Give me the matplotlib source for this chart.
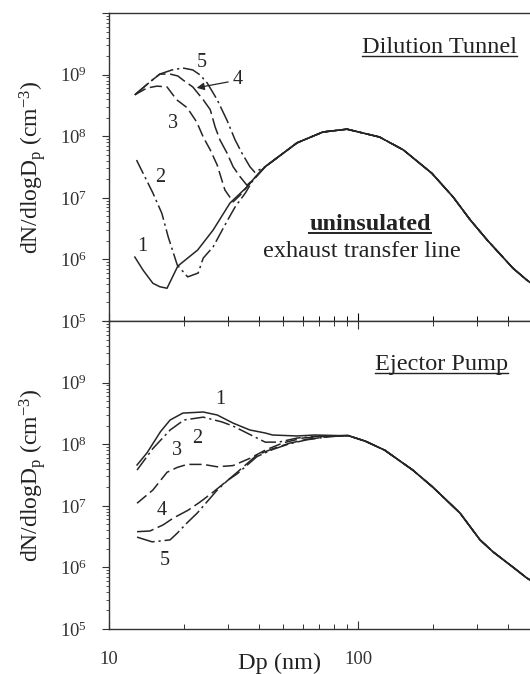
import matplotlib
matplotlib.use('Agg')
import matplotlib.pyplot as plt
from matplotlib.lines import Line2D
from matplotlib.ticker import FixedLocator, FixedFormatter, LogLocator, NullFormatter

plt.rcParams['font.family'] = ['Liberation Serif', 'DejaVu Serif']
plt.rcParams['mathtext.fontset'] = 'custom'
plt.rcParams['mathtext.rm'] = 'Liberation Serif'
plt.rcParams['mathtext.it'] = 'Liberation Serif:italic'
plt.rcParams['mathtext.bf'] = 'Liberation Serif:bold'

# ---------------- data (Dp in nm, dN/dlogDp in cm^-3) ----------------
# Top panel: Dilution Tunnel, shared accumulation-mode tail
top_tail_d = [42.4, 56.9, 72.3, 90.3, 122, 152, 198, 241, 282, 330, 419, 477, 600]
top_tail_n = [3.2e7, 7.8e7, 1.17e8, 1.3e8, 9.7e7, 6.0e7, 2.5e7, 1.03e7, 4.4e6, 2.07e6, 7.2e5, 4.6e5, 2.4e5]

top1_d = [12.7, 13.7, 15.0, 16.0, 17.1, 18.9, 22.7, 26.2, 30.6, 35.8, 37.8]
top1_n = [1.09e6, 6.7e5, 4.1e5, 3.6e5, 3.4e5, 7.8e5, 1.42e6, 3.0e6, 8.2e6, 1.5e7, 1.95e7]
top2_d = [12.9, 15.0, 16.3, 17.3, 17.9, 18.8, 20.7, 22.8, 23.9, 26.2, 30.0, 32.1, 35.3, 37.8]
top2_n = [4.1e7, 1.2e7, 5.6e6, 2.3e6, 1.5e6, 8.1e5, 5.2e5, 6.0e5, 1.05e6, 1.6e6, 4.4e6, 7.1e6, 1.2e7, 1.9e7]
top3_d = [12.7, 14.2, 15.6, 17.1, 18.7, 20.6, 22.5, 23.9, 25.5, 27.2, 29.2, 31.5, 33.6, 37.8]
top3_n = [4.7e8, 6.05e8, 6.5e8, 6.3e8, 3.9e8, 2.9e8, 1.7e8, 9.7e7, 6.0e7, 3.4e7, 1.34e7, 8.6e6, 1.1e7, 1.95e7]
top4_d = [12.7, 14.6, 16.0, 17.6, 18.9, 19.8, 21.7, 23.9, 25.5, 26.7, 27.9, 29.8, 31.5, 33.6, 35.8, 37.8]
top4_n = [4.7e8, 7.6e8, 1.02e9, 1.02e9, 9.5e8, 8.2e8, 6.3e8, 3.9e8, 2.7e8, 1.4e8, 8.7e7, 5.3e7, 3.2e7, 2.2e7, 1.6e7, 1.95e7]
top5_d = [12.7, 14.6, 16.0, 17.9, 19.8, 21.7, 23.2, 24.8, 27.2, 29.8, 32.1, 34.2, 36.8, 38.5]
top5_n = [4.7e8, 7.6e8, 1.02e9, 1.19e9, 1.28e9, 1.19e9, 9.9e8, 7.3e8, 3.9e8, 1.8e8, 8.7e7, 5.3e7, 3.2e7, 2.6e7]

# Bottom panel: Ejector Pump, shared tail
bot_tail_d = [91.3, 107, 128, 166, 200, 257, 309, 349, 419, 477, 600]
bot_tail_n = [1.38e8, 1.12e8, 8.0e7, 3.8e7, 2.0e7, 7.6e6, 2.8e6, 1.78e6, 1.01e6, 6.7e5, 3.8e5]

bot1_d = [12.96, 14.2, 16.1, 17.6, 19.8, 23.9, 27.2, 31.5, 36.8, 42.4, 45.4, 56.9, 67.0, 84.0]
bot1_n = [4.6e7, 7.2e7, 1.6e8, 2.47e8, 3.2e8, 3.33e8, 2.98e8, 2.2e8, 1.7e8, 1.52e8, 1.41e8, 1.36e8, 1.41e8, 1.38e8]
bot2_d = [12.96, 15.0, 17.6, 20.0, 23.9, 28.4, 31.5, 35.8, 42.4, 48.0, 57.0, 70.0, 84.0]
bot2_n = [3.8e7, 8.5e7, 1.7e8, 2.47e8, 2.75e8, 2.3e8, 1.97e8, 1.52e8, 1.08e8, 1.08e8, 1.26e8, 1.35e8, 1.37e8]
bot3_d = [12.96, 15.0, 17.1, 18.8, 20.6, 23.9, 27.2, 31.5, 36.8, 42.4, 50.0, 60.0, 77.0]
bot3_n = [1.1e7, 1.8e7, 3.5e7, 4.2e7, 4.7e7, 4.7e7, 4.3e7, 4.5e7, 5.9e7, 8.0e7, 1.05e8, 1.26e8, 1.36e8]
bot4_d = [12.96, 14.6, 16.5, 18.1, 20.8, 23.2, 26.2, 30.0, 32.7, 39.3, 45.4, 53.2, 62.4, 77.0]
bot4_n = [3.8e6, 3.9e6, 4.9e6, 6.3e6, 8.5e6, 1.15e7, 1.67e7, 2.6e7, 3.5e7, 6.7e7, 8.4e7, 1.04e8, 1.2e8, 1.33e8]
bot5_d = [12.96, 14.9, 16.3, 17.6, 18.8, 20.6, 22.6, 24.7, 27.2, 30.0, 32.7, 39.3, 45.4, 53.2, 62.4, 77.0]
bot5_n = [3.1e6, 2.6e6, 2.7e6, 2.8e6, 3.6e6, 5.3e6, 7.6e6, 1.15e7, 1.8e7, 2.6e7, 3.3e7, 6.3e7, 8.2e7, 1.02e8, 1.18e8, 1.33e8]

curve_ids = ['1', '2', '3', '4', '5']
y_tick_vals = [1e5, 1e6, 1e7, 1e8, 1e9, 1e10]
y_tick_labels = [r'$\mathregular{10^{5}}$', r'$\mathregular{10^{6}}$', r'$\mathregular{10^{7}}$',
                 r'$\mathregular{10^{8}}$', r'$\mathregular{10^{9}}$', '']
x_tick_vals = [10, 100, 1000]
x_tick_labels = ['10', '100', '']

# ---------------- figure ----------------
W, H = 530, 674
fig = plt.figure(figsize=(W / 100, H / 100), dpi=100)
fig.patch.set_facecolor('white')

def px_axes(x0, y0, x1, y1):
    return fig.add_axes([x0 / W, 1 - y1 / H, (x1 - x0) / W, (y1 - y0) / H])

ax_top = px_axes(109, 13, 607, 321)
ax_bot = px_axes(109, 321, 607, 629)

LC = '#262626'
styles = {
    '1': '-',
    '2': (0, (10, 2.5, 1.5, 2.5)),
    '3': (0, (8, 3)),
    '4': (0, (11, 3)),
    '5': (0, (12, 2.5, 1.5, 2.5)),
}

top_series = [(top1_d, top1_n), (top2_d, top2_n), (top3_d, top3_n), (top4_d, top4_n), (top5_d, top5_n)]
bot_series = [(bot1_d, bot1_n), (bot2_d, bot2_n), (bot3_d, bot3_n), (bot4_d, bot4_n), (bot5_d, bot5_n)]

for cid, (d, n) in zip(curve_ids, top_series):
    ax_top.plot(d + top_tail_d, n + top_tail_n, color=LC, lw=1.1, ls=styles[cid])
for cid, (d, n) in zip(curve_ids, bot_series):
    ax_bot.plot(d + bot_tail_d, n + bot_tail_n, color=LC, lw=1.1, ls=styles[cid])

for ax in (ax_top, ax_bot):
    ax.set_xscale('log')
    ax.set_yscale('log')
    ax.set_xlim(10, 1000)
    ax.set_ylim(1e5, 1e10)
    for s in ax.spines.values():
        s.set_linewidth(1.0)
        s.set_color('#333333')
    ax.yaxis.set_major_locator(FixedLocator(y_tick_vals))
    ax.yaxis.set_major_formatter(FixedFormatter(y_tick_labels))
    ax.yaxis.set_minor_locator(LogLocator(base=10, subs=range(2, 10), numticks=20))
    ax.yaxis.set_minor_formatter(NullFormatter())
    ax.tick_params(axis='y', which='major', direction='out', length=5, width=0.8,
                   labelsize=13.5, pad=11, colors='#333333')
    ax.tick_params(axis='y', which='minor', direction='out', length=2.5, width=0.6, colors='#333333')
    ax.xaxis.set_major_locator(FixedLocator(x_tick_vals))
    ax.xaxis.set_major_formatter(FixedFormatter(x_tick_labels))
    ax.xaxis.set_minor_locator(LogLocator(base=10, subs=range(2, 10), numticks=20))
    ax.xaxis.set_minor_formatter(NullFormatter())

ax_top.tick_params(axis='x', which='both', direction='in', top=False, bottom=True, labelbottom=False)
ax_top.tick_params(axis='x', which='major', length=6, width=0.8)
ax_top.tick_params(axis='x', which='minor', length=3.5, width=0.7)
ax_bot.tick_params(axis='x', which='both', direction='in', top=True, bottom=True, labelbottom=True,
                   labelsize=13.5, pad=16, colors='#333333')
ax_bot.tick_params(axis='x', which='major', length=6, width=0.8)
ax_bot.tick_params(axis='x', which='minor', length=3.5, width=0.7)

# curve labels
num_fs = 14.5
for (d, n, t) in [(13.6, 1.6e6, '1'), (16.0, 2.1e7, '2'), (18.1, 1.6e8, '3'), (23.6, 1.55e9, '5')]:
    ax_top.text(d, n, t, fontsize=num_fs, ha='center', va='center', color=LC)
ax_top.text(33.0, 8.2e8, '4', fontsize=num_fs, ha='center', va='center', color=LC)
ax_top.annotate('', xy=(22.5, 6.1e8), xytext=(30.1, 7.6e8),
                arrowprops=dict(arrowstyle='-|>', color=LC, lw=0.9, mutation_scale=11,
                                shrinkA=0, shrinkB=0))
for (d, n, t) in [(27.9, 5.3e8, '1'), (22.5, 1.26e8, '2'), (18.8, 8.0e7, '3'),
                  (16.3, 8.5e6, '4'), (16.8, 1.3e6, '5')]:
    ax_bot.text(d, n, t, fontsize=num_fs, ha='center', va='center', color=LC)

# annotation texts
t_dil = ax_top.text(0.819, 0.870, 'Dilution Tunnel', transform=ax_top.transAxes,
                    ha='right', va='baseline', fontsize=17.5, color='#222222')
t_uni = ax_top.text(0.524, 0.295, 'uninsulated', transform=ax_top.transAxes,
                    ha='center', va='baseline', fontsize=17.5, fontweight='bold', color='#222222')
ax_top.text(0.508, 0.208, 'exhaust transfer line', transform=ax_top.transAxes,
            ha='center', va='baseline', fontsize=17.5, color='#222222')
t_ej = ax_bot.text(0.801, 0.841, 'Ejector Pump', transform=ax_bot.transAxes,
                   ha='right', va='baseline', fontsize=17.5, color='#222222')

ylab = r'dN/dlogD$_\mathregular{p}$ (cm$^{\mathregular{-3}}$)'
fig.text(32 / W, 1 - 167 / H, ylab, rotation=90, ha='center', va='center', fontsize=17, color='#222222')
fig.text(32 / W, 1 - 475 / H, ylab, rotation=90, ha='center', va='center', fontsize=17, color='#222222')
fig.text(280 / W, 1 - 669 / H, 'Dp (nm)', ha='center', va='baseline', fontsize=17.5, color='#222222')

# underlines
fig.canvas.draw()
renderer = fig.canvas.get_renderer()
inv = fig.transFigure.inverted()
for txt, ax, (bx, by), lw in [(t_dil, ax_top, (0.819, 0.870), 1.0),
                              (t_uni, ax_top, (0.524, 0.295), 1.4),
                              (t_ej, ax_bot, (0.801, 0.841), 1.0)]:
    bb = txt.get_window_extent(renderer)
    yb = ax.transAxes.transform((bx, by))[1] - 3
    (fx0, fy), (fx1, _) = inv.transform([(bb.x0, yb), (bb.x1, yb)])
    fig.add_artist(Line2D([fx0, fx1], [fy, fy], transform=fig.transFigure, color='#222222', lw=lw))

fig.savefig('out.png', dpi=100)
